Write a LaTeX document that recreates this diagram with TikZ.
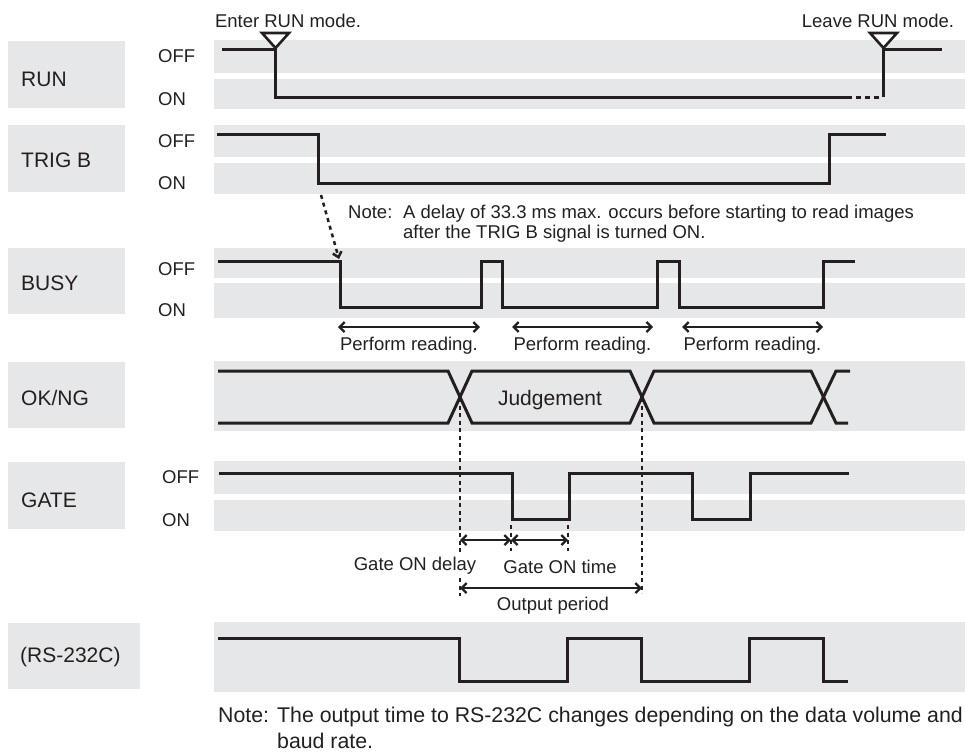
\documentclass[tikz,border=0pt]{standalone}
\usepackage{fontspec}
\setmainfont{Liberation Sans}
\usetikzlibrary{arrows.meta,positioning}
\definecolor{bandgray}{HTML}{E6E7E8}
\definecolor{ink}{HTML}{231F20}
\newcommand{\smalltxt}{\fontsize{18.5pt}{20pt}\selectfont}
\newcommand{\bigtxt}{\fontsize{21pt}{24pt}\selectfont}
\newcommand{\notetxt}{\fontsize{21.3pt}{24pt}\selectfont}

\begin{document}
\begin{tikzpicture}[
  x=1pt,
  y=-1pt,
  band/.style={fill=bandgray},
  sig/.style={draw=ink, line width=3pt, line join=miter},
  guide/.style={draw=ink, line width=2.6pt, dash pattern=on 4pt off 3.5pt},
  dimline/.style={draw=ink, line width=2.3pt, {Straight Barb[length=5pt,width=10pt]}-{Straight Barb[length=5pt,width=10pt]}},
  delay/.style={draw=ink, line width=2.5pt, dash pattern=on 4pt off 4pt, -{Straight Barb[length=5pt,width=9pt]}},
  signame/.style={font=\bigtxt, text=ink, anchor=base west, inner sep=0pt},
  lvl/.style={font=\smalltxt, text=ink, anchor=base west, inner sep=0pt},
  txt/.style={font=\smalltxt, text=ink, anchor=base, inner sep=0pt},
  notelbl/.style={font=\notetxt, text=ink, anchor=base west, inner sep=0pt},
  trimark/.style={draw=ink, fill=white, line width=2.6pt, line join=miter}
]
\useasboundingbox (0,0) rectangle (965,753);

\foreach \ya/\yb in {40/73,79/109,125/157,163/194,248/278,283/318,361/431,461/494,500/531,622/692}
  \fill[band] (214,\ya) rectangle (965,\yb);
\foreach \ya/\yb/\xb in {41/108/125,125/192/125,248/314/125,362/428/125,462/529/125,623/689/140}
  \fill[band] (8,\ya) rectangle (\xb,\yb);

\node[signame] (nrun) at (21,86) {RUN};
\node[signame] (ntrig) at (21,167) {TRIG B};
\node[signame] (nbusy) at (21,290) {BUSY};
\node[signame] (nok) at (21,405) {OK/NG};
\node[signame] (ngate) at (21,507) {GATE};
\node[signame] (nrs) at (20,662) {(RS-232C)};
\foreach \k/\xo/\yoff/\yon in {run/158/62/105,trig/158/147/189,busy/158/275/316,gate/162/483/526}{
  \node[lvl] (off\k) at (\xo,\yoff) {OFF};
  \node[lvl] (on\k) at (\xo,\yon) {ON};
}

\node[txt] (enter) at (288,27) {Enter RUN mode.};
\node[txt] (leave) at (878,27) {Leave RUN mode.};
\draw[sig] (222,49) -- (275,49) -- (275,97) -- (847,97);
\draw[sig, dash pattern=on 5pt off 4pt] (847,97) -- (880,97);
\draw[sig] (883,97) -- (883,49) -- (942,49);
\draw[trimark] (262,33) -- (289,33) -- (275.5,48) -- cycle;
\draw[trimark] (870,33) -- (897,33) -- (883.5,48) -- cycle;

\draw[sig] (217,134) -- (318,134) -- (318,183) -- (829,183) -- (829,134) -- (886,134);
\coordinate (dstart) at (321,195);
\coordinate (dend) at (339,259);
\draw[delay] (dstart) -- (dend);
\node[lvl] (note1) at (348,218) {Note:};
\node[lvl] (note1a) at (403,218) {A delay of 33.3 ms max. occurs before starting to read images};
\node[lvl] (note1b) at ([yshift=-20pt]note1a.base west) {after the TRIG B signal is turned ON.};

\draw[sig] (218,261) -- (340,261) -- (340,307) -- (481,307) -- (481,261) -- (502,261) -- (502,307)
  -- (657,307) -- (657,261) -- (679,261) -- (679,307) -- (823,307) -- (823,261) -- (855,261);
\foreach \i/\xa/\xb in {1/338/480,2/512/653,3/682/823}{
  \coordinate (pr\i a) at (\xa,327);
  \coordinate (pr\i b) at (\xb,327);
  \draw[dimline] (pr\i a) -- (pr\i b) node[midway, below=9pt, font=\smalltxt, text=ink, inner sep=0pt] (prl\i) {Perform reading.};
}

\draw[sig] (218,371) -- (448,371) -- (472,423) -- (630,423) -- (654,371) -- (811,371) -- (836,423) -- (848,423);
\draw[sig] (218,423) -- (448,423) -- (472,371) -- (630,371) -- (654,423) -- (811,423) -- (836,371) -- (850,371);
\node[txt, font=\bigtxt] (judge) at (550,405) {Judgement};

\draw[sig] (219,473) -- (512,473) -- (512,519) -- (569,519) -- (569,473) -- (692,473) -- (692,519)
  -- (750,519) -- (750,473) -- (849,473);
\coordinate (okx1) at (460,398);
\coordinate (okx2) at (642,398);
\coordinate (gd1) at (460,540);
\coordinate (gd2) at (511,540);
\coordinate (gd3) at (568,540);
\coordinate (op1) at (460,588);
\coordinate (op2) at (642,588);
\draw[guide] (okx1) -- ([yshift=-8pt]op1);
\draw[guide] (okx2) -- ([yshift=-5pt]op2);
\draw[guide] (511,525) -- (511,551);
\draw[guide] (568,525) -- (568,551);
\draw[dimline] (gd1) -- (gd2);
\draw[dimline] (gd2) -- (gd3);
\draw[dimline] (op1) -- (op2);
\node[txt, fill=white, inner sep=1pt] (gdl) at (415,570) {Gate ON delay};
\node[txt] (gtl) at (560,573) {Gate ON time};
\node[txt] (opl) at (553,610) {Output period};

\draw[sig] (218,638) -- (459,638) -- (459,681) -- (567,681) -- (567,638) -- (641,638) -- (641,681)
  -- (749,681) -- (749,638) -- (823,638) -- (823,681) -- (848,681);
\node[notelbl] (note2) at (218,722) {Note:};
\node[notelbl] (note2a) at (277,722) {The output time to RS-232C changes depending on the data volume and};
\node[notelbl] (note2b) at ([yshift=-26pt]note2a.base west) {baud rate.};
\end{tikzpicture}
\end{document}
